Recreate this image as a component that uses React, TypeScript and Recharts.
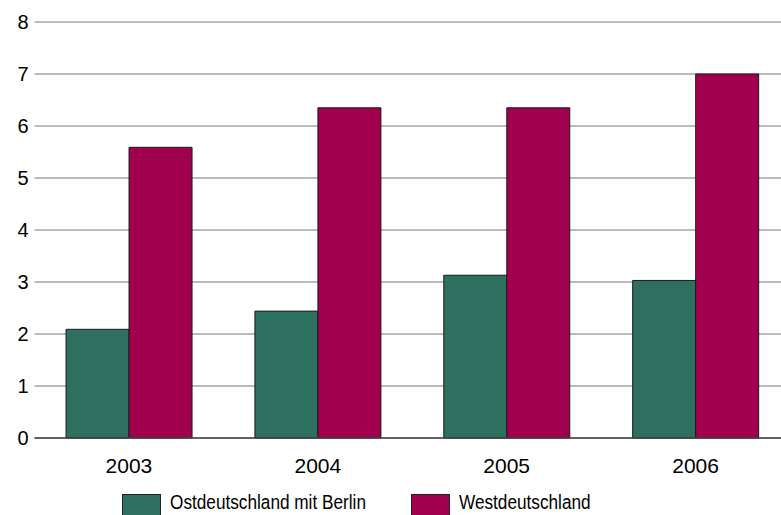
import { BarChart, Bar, XAxis, YAxis, CartesianGrid, Legend } from 'recharts';

const years = ['2003', '2004', '2005', '2006'];
const ostValues = [2.09, 2.44, 3.13, 3.03];
const westValues = [5.59, 6.35, 6.35, 7.0];
const yTicks = [0, 1, 2, 3, 4, 5, 6, 7, 8];

const OST_COLOR = '#2E7060';
const WEST_COLOR = '#A0004E';
const FONT = '"Liberation Sans", Arial, sans-serif';

const data = years.map((year, i) => ({
  year,
  ost: ostValues[i],
  west: westValues[i],
}));

// Legende unten, Positionen wie im Original
const CustomLegend = () => (
  <div style={{ position: 'relative', height: 25, width: 800, fontFamily: FONT, fontSize: 20, color: '#000' }}>
    {[
      { label: 'Ostdeutschland mit Berlin', color: OST_COLOR, x: 122 },
      { label: 'Westdeutschland', color: WEST_COLOR, x: 411 },
    ].map((item) => (
      <div key={item.label} style={{ position: 'absolute', left: item.x, top: 4, display: 'flex', alignItems: 'flex-start' }}>
        <div style={{ width: 37, height: 26, background: item.color, border: '1px solid #222' }} />
        <span
          style={{
            marginLeft: 9,
            marginTop: 0,
            lineHeight: '16px',
            whiteSpace: 'nowrap',
            display: 'inline-block',
            transform: 'scaleX(0.86)',
            transformOrigin: 'left center',
          }}
        >
          {item.label}
        </span>
      </div>
    ))}
  </div>
);

export default function App() {
  return (
    <div style={{ width: 781, height: 515, overflow: 'hidden', position: 'relative' }}>
      <style>{'body{margin:0;overflow:hidden}'}</style>
      <BarChart
        width={800}
        height={515}
        data={data}
        margin={{ top: 22, right: 10, left: 0, bottom: 0 }}
        barCategoryGap="16.7%"
        barGap={0}
      >
        <CartesianGrid vertical={false} stroke="#777" strokeWidth={1} />
        <XAxis
          dataKey="year"
          axisLine={{ stroke: '#444', strokeWidth: 1.5 }}
          tickLine={false}
          height={52}
          tickMargin={14}
          tick={{ fontSize: 21, fill: '#000', fontFamily: FONT }}
        />
        <YAxis
          width={34.5}
          domain={[0, 8]}
          ticks={yTicks}
          axisLine={false}
          tickLine={false}
          tickMargin={0}
          tick={{ fontSize: 20, fill: '#000', fontFamily: FONT }}
        />
        <Legend
          verticalAlign="bottom"
          content={<CustomLegend />}
          wrapperStyle={{ left: 0, bottom: 0, width: 800, height: 25 }}
        />
        <Bar dataKey="ost" fill={OST_COLOR} stroke="#1a1a1a" strokeWidth={1} isAnimationActive={false} />
        <Bar dataKey="west" fill={WEST_COLOR} stroke="#1a1a1a" strokeWidth={1} isAnimationActive={false} />
      </BarChart>
    </div>
  );
}
